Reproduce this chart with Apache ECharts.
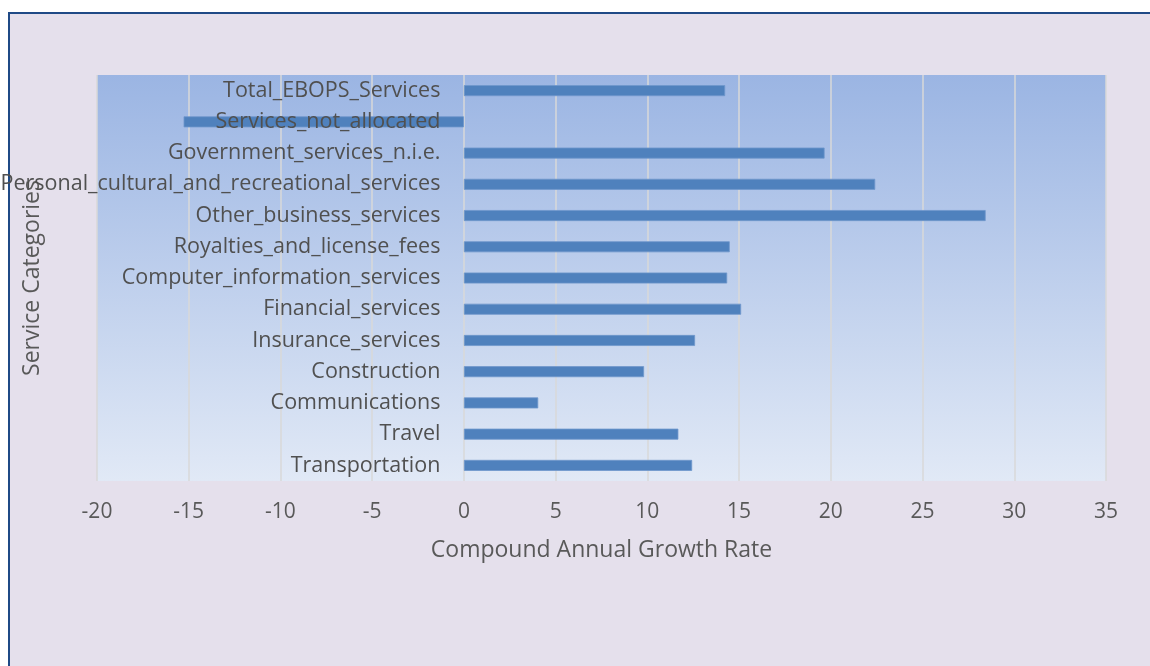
<!DOCTYPE html>
<html>
<head>
<meta charset="utf-8">
<script src="https://cdn.jsdelivr.net/npm/echarts@6/dist/echarts.min.js"></script>
<style>
  html, body { margin: 0; padding: 0; background: #ffffff; overflow: hidden; }
  #frame {
    position: absolute; left: 8px; top: 12px; width: 1200px; height: 700px;
    background: #E5E0EC; border-left: 2px solid #1F4A86; border-top: 2px solid #1F4A86;
  }
  #chart { position: absolute; left: 0; top: 0; width: 1150px; height: 666px; }
</style>
</head>
<body>
<div id="frame"></div>
<div id="chart"></div>
<script>
// Service categories, listed top to bottom
const categories = [
  'Total_EBOPS_Services',
  'Services_not_allocated',
  'Government_services_n.i.e.',
  'Personal_cultural_and_recreational_services',
  'Other_business_services',
  'Royalties_and_license_fees',
  'Computer_information_services',
  'Financial_services',
  'Insurance_services',
  'Construction',
  'Communications',
  'Travel',
  'Transportation'
];

// Compound annual growth rate (%) per category
const cagrValues = [14.24, -15.28, 19.66, 22.42, 28.44, 14.49, 14.35, 15.11, 12.60, 9.82, 4.05, 11.69, 12.44];

const xMin = -20;
const xMax = 35;
const xStep = 5;

const textColor = '#595959';
const gridColor = '#D9D9D9';
const fontFamily = '"Open Sans", "Noto Sans", sans-serif';

const chart = echarts.init(document.getElementById('chart'), null, { renderer: 'canvas' });

chart.setOption({
  backgroundColor: 'transparent',
  animation: false,
  grid: {
    left: 97, right: 44, top: 75, bottom: 185,
    containLabel: false,
    outerBoundsMode: 'none',
    show: true,
    borderWidth: 0,
    backgroundColor: {
      type: 'linear', x: 0, y: 0, x2: 0, y2: 1,
      colorStops: [
        { offset: 0, color: '#9BB5E3' },
        { offset: 1, color: '#E1E9F6' }
      ]
    }
  },
  xAxis: {
    type: 'value',
    min: xMin, max: xMax, interval: xStep,
    name: 'Compound Annual Growth Rate',
    nameLocation: 'middle',
    nameGap: 58,
    nameTextStyle: { color: textColor, fontSize: 23, fontFamily: fontFamily },
    axisLine: { show: false, onZero: false },
    axisTick: { show: false },
    axisLabel: { color: textColor, fontSize: 21, fontFamily: fontFamily, margin: 21 },
    splitLine: { show: true, lineStyle: { color: gridColor, width: 1.5 } }
  },
  yAxis: {
    type: 'category',
    data: categories,
    inverse: true,
    axisLine: { show: false },
    axisTick: { show: false },
    splitLine: { show: false },
    axisLabel: { show: false }
  },
  graphic: [{
    type: 'text',
    x: 32,
    y: 278,
    rotation: Math.PI / 2,
    style: {
      text: 'Service Categories',
      fill: textColor,
      font: '23px "Open Sans", "Noto Sans", sans-serif',
      textAlign: 'center',
      textVerticalAlign: 'middle'
    }
  }],
  series: [
    {
      type: 'bar',
      data: cagrValues,
      barWidth: 11,
      z: 2,
      itemStyle: { color: '#4F81BD', borderColor: '#6E97CB', borderWidth: 0.8 }
    },
    {
      // category names placed just left of the zero line, on top of the bars
      type: 'scatter',
      data: categories.map(c => ({ name: c, value: [0, c] })),
      symbolSize: 1,
      itemStyle: { color: 'rgba(0,0,0,0)' },
      z: 5,
      silent: true,
      label: {
        show: true,
        position: 'left',
        distance: 23,
        formatter: '{b}',
        color: '#505050',
        opacity: 1,
        textBorderWidth: 0,
        fontSize: 21.5,
        fontFamily: fontFamily
      }
    }
  ]
});
</script>
</body>
</html>
